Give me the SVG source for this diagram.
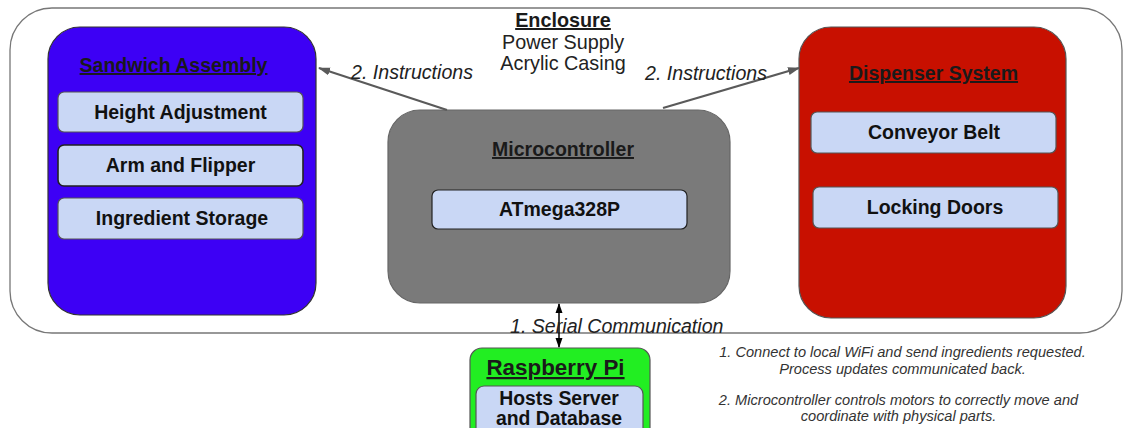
<svg xmlns="http://www.w3.org/2000/svg" width="1123" height="428" viewBox="0 0 1123 428">
<style>
text{font-family:"Liberation Sans",Arial,sans-serif}
.title{font-weight:bold;font-size:19.5px;text-decoration:underline;text-anchor:middle;fill:#1a1a1a}
.sub{fill:#c9d7f5;stroke:#555;stroke-width:1.2}
.subt{font-weight:bold;font-size:19.5px;text-anchor:middle;fill:#111}
.lbl{font-style:italic;font-size:19.6px;fill:#222}
.enc{font-size:19.8px;text-anchor:middle;fill:#222}
.note{font-style:italic;font-size:14.6px;fill:#333;text-anchor:middle}
.conn{stroke:#5a5a5a;stroke-width:2.2;fill:none}
</style>
<defs>
<marker id="ah" markerWidth="12" markerHeight="10" refX="11" refY="5" orient="auto" markerUnits="userSpaceOnUse">
<path d="M0,1 L12,5 L0,9 z" fill="#5a5a5a"/>
</marker>
<marker id="ak" markerWidth="10" markerHeight="10" refX="9" refY="5" orient="auto-start-reverse" markerUnits="userSpaceOnUse">
<path d="M0,1.5 L10,5 L0,8.5 z" fill="#000"/>
</marker>
</defs>
<rect width="1123" height="428" fill="#fff"/>
<g id="enclosure">
<rect x="10" y="8" width="1112" height="325" rx="42" fill="#fff" stroke="#777" stroke-width="1.3"/>
<text x="563" y="27" class="title" style="font-size:19.8px">Enclosure</text>
<text x="563" y="49" class="enc">Power Supply</text>
<text x="563" y="70" class="enc">Acrylic Casing</text>
</g>
<g id="sandwich">
<rect x="48" y="27" width="268" height="288" rx="32" fill="#3d00f5" stroke="#333" stroke-width="1.2"/>
<text x="173.5" y="72" class="title">Sandwich Assembly</text>
<rect x="58" y="92" width="245" height="40" rx="6" class="sub"/>
<text x="180.5" y="119" class="subt">Height Adjustment</text>
<rect x="58" y="145" width="245" height="41" rx="6" class="sub" style="stroke:#222;stroke-width:1.6"/>
<text x="180.5" y="172" class="subt">Arm and Flipper</text>
<rect x="58" y="198" width="245" height="41" rx="6" class="sub"/>
<text x="182" y="225" class="subt">Ingredient Storage</text>
</g>
<g id="microcontroller">
<rect x="388" y="110" width="342" height="193" rx="32" fill="#7a7a7a" stroke="#666" stroke-width="1.2"/>
<text x="563" y="156" class="title">Microcontroller</text>
<rect x="432" y="190" width="255" height="39" rx="6" class="sub" style="stroke:#222"/>
<text x="559.5" y="216" class="subt">ATmega328P</text>
</g>
<g id="dispenser">
<rect x="799" y="27" width="267" height="291" rx="32" fill="#c81000" stroke="#555" stroke-width="1.2"/>
<text x="933.5" y="80" class="title">Dispenser System</text>
<rect x="811" y="112" width="245" height="41" rx="6" class="sub"/>
<text x="934" y="139" class="subt">Conveyor Belt</text>
<rect x="813" y="187" width="245" height="41" rx="6" class="sub"/>
<text x="935" y="214" class="subt">Locking Doors</text>
</g>
<g id="raspberry">
<rect x="470" y="348" width="180" height="100" rx="12" fill="#22ee22" stroke="#555" stroke-width="1.2"/>
<text x="555.5" y="375" class="title" style="font-size:22.4px">Raspberry Pi</text>
<rect x="476" y="386" width="167" height="60" rx="8" class="sub"/>
<text x="559" y="405" class="subt" style="font-size:19.4px">Hosts Server</text>
<text x="559" y="425" class="subt" style="font-size:19.4px">and Database</text>
</g>
<g id="connectors">
<line x1="447" y1="110" x2="319" y2="68" class="conn" marker-end="url(#ah)"/>
<line x1="663" y1="108" x2="799" y2="68" class="conn" marker-end="url(#ah)"/>
<line x1="559" y1="304" x2="559" y2="347" stroke="#000" stroke-width="1.5" marker-start="url(#ak)" marker-end="url(#ak)"/>
<text x="351" y="79" class="lbl">2. Instructions</text>
<text x="645" y="80" class="lbl">2. Instructions</text>
<text x="510" y="333" class="lbl">1. Serial Communication</text>
</g>
<g id="notes">
<text x="902.5" y="357" class="note">1. Connect to local WiFi and send ingredients requested.</text>
<text x="902.5" y="374" class="note">Process updates communicated back.</text>
<text x="898.5" y="405" class="note">2. Microcontroller controls motors to correctly move and</text>
<text x="898.5" y="421" class="note">coordinate with physical parts.</text>
</g>
</svg>
